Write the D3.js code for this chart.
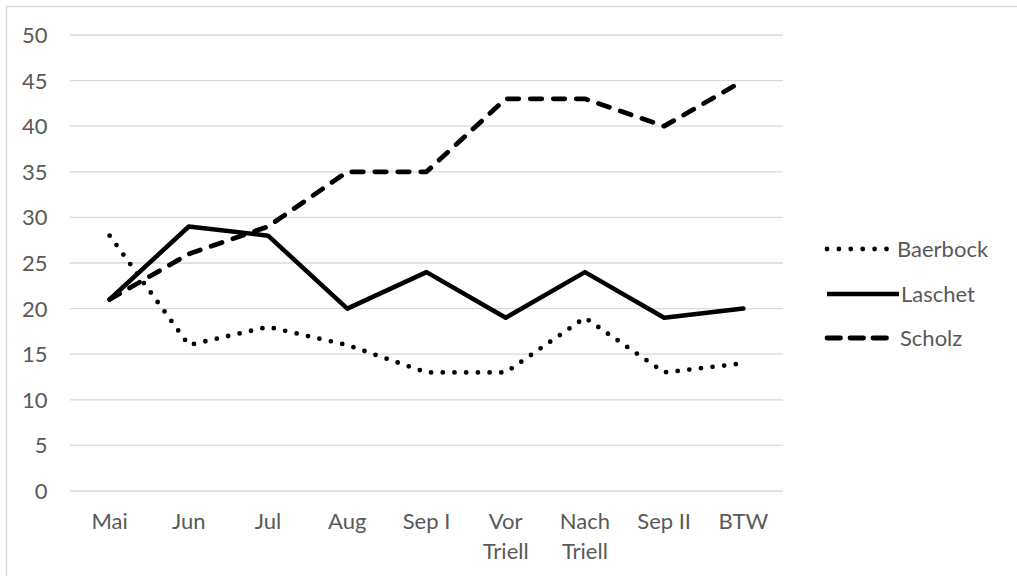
<!DOCTYPE html>
<html><head><meta charset="utf-8">
<script src="https://cdn.jsdelivr.net/npm/d3@7"></script>
<style>body{margin:0;background:#fff}svg{display:block}</style>
</head><body><svg id="c" width="1017" height="576"></svg>
<script>
const categories = [["Mai"],["Jun"],["Jul"],["Aug"],["Sep I"],["Vor","Triell"],["Nach","Triell"],["Sep II"],["BTW"]];
const baerbock = [28,16,18,16,13,13,19,13,14];
const laschet  = [21,29,28,20,24,19,24,19,20];
const scholz   = [21,26,29,35,35,43,43,40,45];
const yTicks = [0,5,10,15,20,25,30,35,40,45,50];
const seriesNames = ["Baerbock","Laschet","Scholz"];

const svg = d3.select("#c");
const font = "Lato, 'Open Sans', sans-serif";
const fs = 22;
const txt = "#595959";
svg.append("rect").attr("x",6.5).attr("y",6.5).attr("width",1030).attr("height",600)
  .attr("fill","#fff").attr("stroke","#d9d9d9").attr("stroke-width",1.5);

const x = d3.scaleBand().domain(categories.map((c,i)=>i)).range([70,783]);
const y = d3.scaleLinear().domain([0,50]).range([491,35]);

// gridlines
svg.append("g").selectAll("line").data(yTicks).join("line")
  .attr("x1",70).attr("x2",783).attr("y1",d=>y(d)).attr("y2",d=>y(d))
  .attr("stroke","#d9d9d9").attr("stroke-width",1.3);

// y labels
svg.append("g").selectAll("text").data(yTicks).join("text")
  .attr("x",47.5).attr("y",d=>y(d)).attr("dy","0.36em").attr("text-anchor","end")
  .attr("font-family",font).attr("font-size",fs).attr("fill",txt).text(d=>d);

// x labels
const xl = svg.append("g").selectAll("text").data(categories).join("text")
  .attr("x",(d,i)=>x(i)+x.bandwidth()/2).attr("y",529).attr("text-anchor","middle")
  .attr("font-family",font).attr("font-size",fs).attr("fill",txt);
xl.selectAll("tspan").data(d=>d).join("tspan")
  .attr("x",function(){return this.parentNode.getAttribute("x");})
  .attr("dy",(d,i)=>i===0?0:30).text(d=>d);

const line = d3.line().x((d,i)=>x(i)+x.bandwidth()/2).y(d=>y(d));
const styles = {
  Baerbock:{w:4.8,dash:"0,11.7"},
  Laschet:{w:4.5,dash:null},
  Scholz:{w:4.8,dash:"11.5,11.5"}
};
const dataMap = {Baerbock:baerbock, Laschet:laschet, Scholz:scholz};
["Baerbock","Scholz","Laschet"].forEach(n=>{
  svg.append("path").datum(dataMap[n]).attr("d",line).attr("fill","none")
    .attr("stroke","#000").attr("stroke-width",styles[n].w)
    .attr("stroke-linecap","round").attr("stroke-linejoin","round")
    .attr("stroke-dasharray",styles[n].dash);
});

// legend
const legY = [249,294,338];
const legEnd = {Baerbock:887, Laschet:899, Scholz:887};
const textX = {Baerbock:897, Laschet:901, Scholz:900};
seriesNames.forEach((n,i)=>{
  svg.append("line").attr("x1",827).attr("x2",legEnd[n]).attr("y1",legY[i]).attr("y2",legY[i])
    .attr("stroke","#000").attr("stroke-width",styles[n].w)
    .attr("stroke-linecap", n==="Laschet"?"butt":"round")
    .attr("stroke-dasharray", n==="Scholz"?"13.5,9.5":(n==="Baerbock"?"0,11.9":null));
  svg.append("text").attr("x",textX[n]).attr("y",legY[i]).attr("dy","0.36em")
    .attr("font-family",font).attr("font-size",fs).attr("fill",txt).text(n);
});
</script></body></html>
